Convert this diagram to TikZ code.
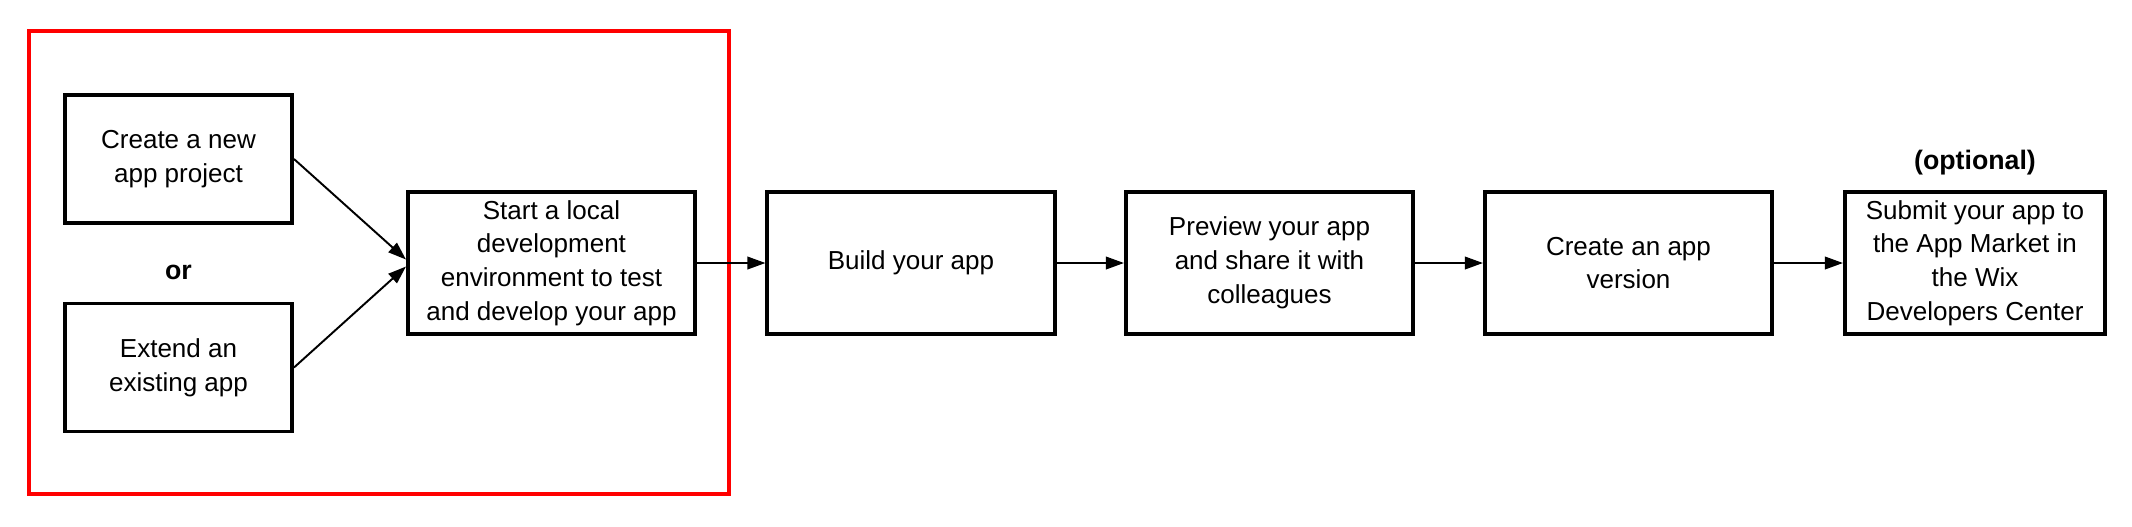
\documentclass[tikz,border=0pt]{standalone}
\usepackage{fontspec}
\setmainfont{Liberation Sans}
\usetikzlibrary{arrows.meta}
\definecolor{framered}{HTML}{FF0000}

\begin{document}
\begin{tikzpicture}[
    x=0.01cm, y=-0.01cm,
    >={Triangle[length=0.18cm, width=0.125cm]},
    font=\fontsize{7.4}{9.6}\selectfont,
    stepbox/.style={draw=black, line width=1.1pt, align=center, inner sep=0pt,
        minimum width=2.87cm, minimum height=1.42cm},
    startbox/.style={stepbox, minimum width=2.27cm, minimum height=1.28cm},
    flow/.style={->, line width=0.55pt},
    note/.style={font=\fontsize{7.6}{9.6}\selectfont\bfseries}
]

    % Canvas
    \useasboundingbox (0,0) rectangle (2132,526);

    % Local development group (red frame)
    \draw[framered, line width=1.1pt] (29,31) rectangle (729,494);

    % Ways to begin
    \node[startbox] (newapp) at (178.5,159) {Create a new\\app project};
    \node[startbox] (extend) at (178.5,367.5) {Extend an\\existing app};
    \node[note] (or) at (178.5,272) {or};

    % Main flow
    \node[stepbox] (localdev) at (551.5,263) {Start a local\\development\\environment to test\\and develop your app};
    \node[stepbox] (build) at (911,263) {Build your app};
    \node[stepbox] (preview) at (1269.5,263) {Preview your app\\and share it with\\colleagues};
    \node[stepbox] (version) at (1628.5,263) {Create an app\\version};
    \node[stepbox, minimum width=2.6cm] (submit) at (1975,263) {Submit your app to\\the App Market in\\the Wix\\Developers Center};
    \node[note] (optional) at (1975,163) {(optional)};

    % Connectors
    \draw[flow] (newapp.east) -- ([yshift=1pt]localdev.west);
    \draw[flow] (extend.east) -- ([yshift=-1pt]localdev.west);
    \draw[flow] (localdev) -- (build);
    \draw[flow] (build) -- (preview);
    \draw[flow] (preview) -- (version);
    \draw[flow] (version) -- (submit);

\end{tikzpicture}
\end{document}
